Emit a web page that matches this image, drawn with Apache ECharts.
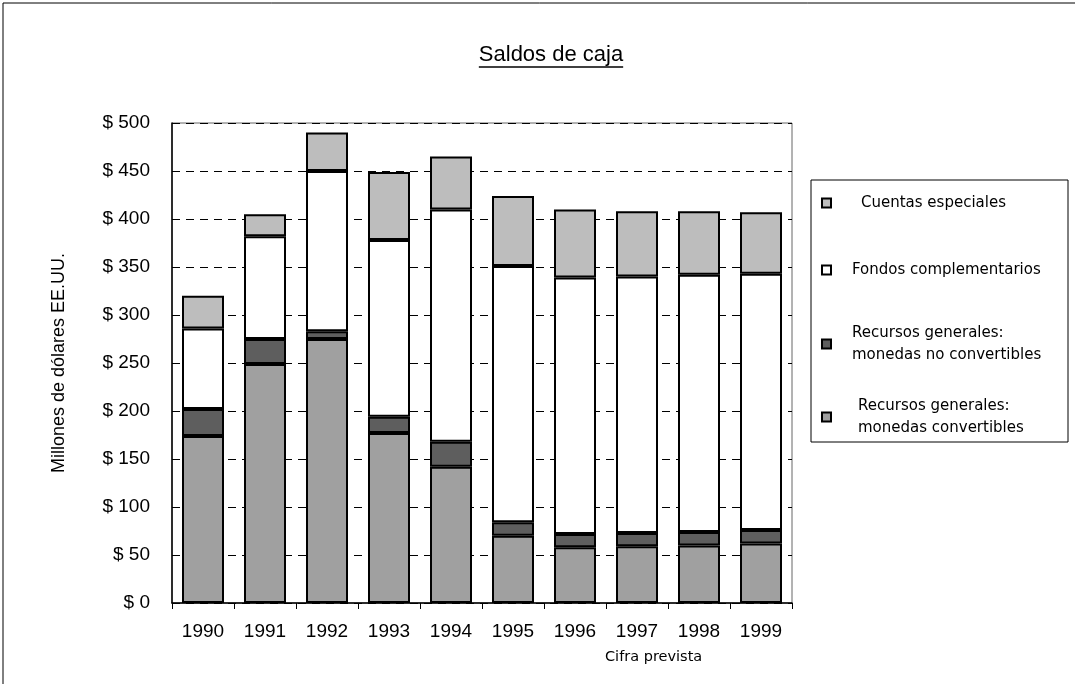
<!DOCTYPE html>
<html>
<head>
<meta charset="utf-8">
<script src="https://cdn.jsdelivr.net/npm/echarts@6/dist/echarts.min.js"></script>
<style>
html,body{margin:0;padding:0;background:#fff;}
#chart{width:1075px;height:684px;}
</style>
</head>
<body>
<div id="chart"></div>
<script>
const years = ['1990','1991','1992','1993','1994','1995','1996','1997','1998','1999'];
const convertibles   = [174, 249, 275, 177, 142, 70, 58, 59, 60, 62];
const noConvertibles = [28, 26, 8, 17, 26, 14, 14, 14, 14, 14];
const fondos         = [84, 107, 167, 184, 242, 267, 267, 267, 268, 267];
const cuentas        = [34, 23, 40, 71, 55, 73, 71, 68, 66, 64];
const yTicks = [0, 50, 100, 150, 200, 250, 300, 350, 400, 450, 500];

const names = {
  cuentas: 'Cuentas especiales',
  fondos: 'Fondos complementarios',
  noconv: 'Recursos generales:\nmonedas no convertibles',
  conv: 'Recursos generales:\nmonedas convertibles'
};

const font = '"Liberation Sans", Arial, sans-serif';
const wideFont = '"DejaVu Sans", sans-serif';
const titleText = 'Saldos de caja';
const titleSize = 22;
const titleCenter = 551;

// measure title to place its underline
const ctx = document.createElement('canvas').getContext('2d');
ctx.font = titleSize + 'px ' + font;
const titleW = ctx.measureText(titleText).width;

const chart = echarts.init(document.getElementById('chart'));

function barSeries(name, data, color) {
  return {
    name: name,
    type: 'bar',
    stack: 'total',
    data: data,
    barWidth: 42,
    itemStyle: { color: color, borderColor: '#000', borderWidth: 2 }
  };
}

const legendBase = {
  orient: 'vertical',
  left: 821,
  itemWidth: 9,
  itemHeight: 9,
  icon: 'rect',
  padding: 0
};

chart.setOption({
  backgroundColor: '#fff',
  animation: false,
  title: {
    text: titleText,
    left: titleCenter,
    top: 44,
    padding: 0,
    textAlign: 'center',
    textStyle: { fontFamily: font, fontSize: titleSize, fontWeight: 'normal', color: '#000' }
  },
  grid: {
    left: 172, right: 283, top: 123, bottom: 81,
    show: true, borderColor: '#666', borderWidth: 1
  },
  legend: [
    Object.assign({}, legendBase, {
      top: 193,
      itemGap: 47,
      data: [
        { name: names.cuentas, textStyle: { padding: [0, 0, 0, 25] } },
        { name: names.fondos, textStyle: { padding: [0, 0, 0, 16] } }
      ],
      textStyle: { fontFamily: wideFont, fontSize: 15, color: '#000', lineHeight: 20 }
    }),
    Object.assign({}, legendBase, {
      top: 322,
      itemGap: 29,
      data: [
        { name: names.noconv, textStyle: { padding: [0, 0, 0, 16] } },
        { name: names.conv, textStyle: { padding: [0, 0, 0, 22] } }
      ],
      textStyle: { fontFamily: wideFont, fontSize: 15, color: '#000', lineHeight: 22 }
    })
  ],
  xAxis: {
    type: 'category',
    data: years,
    axisLine: { lineStyle: { color: '#000', width: 1.5 } },
    axisTick: { show: true, interval: 0, length: 6, lineStyle: { color: '#000' } },
    axisLabel: { fontFamily: font, fontSize: 19, color: '#000', margin: 19, interval: 0 }
  },
  yAxis: {
    type: 'value',
    min: yTicks[0],
    max: yTicks[yTicks.length - 1],
    interval: 50,
    name: 'Millones de dólares EE.UU.',
    nameLocation: 'middle',
    nameGap: 104,
    nameTextStyle: { fontFamily: font, fontSize: 18, color: '#000' },
    axisLine: { show: true, lineStyle: { color: '#000', width: 1.5 } },
    axisTick: { show: false },
    axisLabel: {
      fontFamily: font, fontSize: 19, color: '#000', margin: 22,
      formatter: v => '$ ' + v
    },
    splitLine: { lineStyle: { color: '#000', type: [8, 6], width: 1 } }
  },
  graphic: [
    { type: 'rect', silent: true, shape: { x: 3, y: 3, width: 1090, height: 700 },
      style: { fill: 'none', stroke: '#000', lineWidth: 1 } },
    { type: 'line', silent: true,
      shape: { x1: titleCenter - titleW / 2, y1: 67, x2: titleCenter + titleW / 2, y2: 67 },
      style: { stroke: '#000', lineWidth: 1.3 } },
    { type: 'rect', silent: true, shape: { x: 811, y: 180, width: 257, height: 262 },
      style: { fill: 'none', stroke: '#000', lineWidth: 1 } },
    { type: 'text', silent: true, left: 605, top: 650,
      style: { text: 'Cifra prevista', fontFamily: wideFont, fontSize: 14.5, fill: '#000' } }
  ],
  series: [
    barSeries(names.conv, convertibles, '#a0a0a0'),
    barSeries(names.noconv, noConvertibles, '#5e5e5e'),
    barSeries(names.fondos, fondos, '#ffffff'),
    barSeries(names.cuentas, cuentas, '#bdbdbd')
  ]
});
</script>
</body>
</html>
